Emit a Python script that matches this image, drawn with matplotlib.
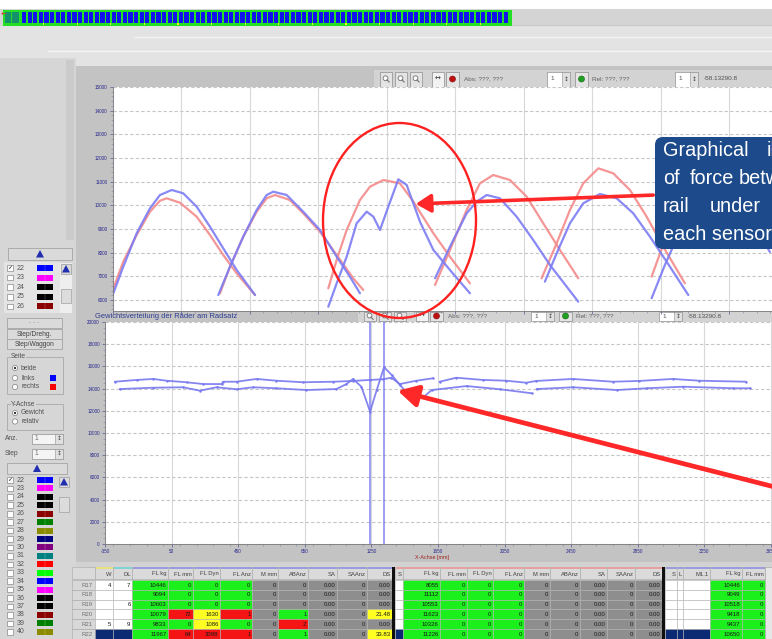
import numpy as np
import matplotlib
matplotlib.use("Agg")
import matplotlib.pyplot as plt
from matplotlib.patches import Rectangle, Ellipse, FancyBboxPatch, FancyArrowPatch, Circle, Polygon
from matplotlib.ticker import MultipleLocator

plt.rcParams['font.family'] = ['Liberation Sans', 'DejaVu Sans']

W, H = 772, 639

# ---------------- upper chart: force per sensor (kg) over position (mm)
blue1_x = [0, 77, 175, 272, 345, 431, 515, 613, 710, 807, 905, 1039]
blue1_y = [6211, 7407, 8818, 9874, 10436, 10648, 10507, 9942, 9097, 8184, 7268, 6211]
red1_x = [0, 77, 175, 272, 345, 394, 491, 613, 710, 807, 905, 1039]
red1_y = [6423, 7618, 8746, 9731, 10195, 10297, 10111, 9520, 8746, 7901, 7127, 6211]

blue2_x = [771, 856, 953, 1051, 1124, 1172, 1270, 1391, 1513, 1635, 1732, 1805]
blue2_y = [6211, 7407, 8675, 9803, 10436, 10576, 10436, 9731, 8958, 7829, 6984, 6283]
red2_x = [783, 856, 953, 1051, 1124, 1185, 1294, 1391, 1513, 1635, 1756, 1829]
red2_y = [6283, 7407, 8675, 9731, 10297, 10436, 10225, 9663, 8886, 7901, 6917, 6423]

blue3_x = [1574, 1635, 1708, 1781, 1854, 1903, 1951, 2012, 2085, 2146, 2244, 2341, 2462, 2608]
blue3_y = [5717, 6704, 7830, 9241, 9732, 9520, 8958, 9942, 11099, 10859, 9296, 8113, 7268, 6283]
red3_x = [1574, 1635, 1708, 1805, 1878, 1976, 2097, 2195, 2341, 2462, 2608]
red3_y = [6493, 7690, 8958, 10225, 10788, 11070, 10929, 10155, 8818, 7829, 6705]

blue4_x = [2353, 2462, 2584, 2657, 2730, 2827, 2949, 3070, 3192, 3399]
blue4_y = [6917, 8252, 9663, 10155, 10436, 10297, 9520, 8535, 7479, 5928]
red4_x = [2353, 2462, 2584, 2681, 2778, 2900, 3022, 3143, 3265, 3399]
red4_y = [6634, 8113, 9803, 10929, 11281, 11070, 10366, 9241, 8113, 6917]

blue5_x = [3155, 3241, 3338, 3435, 3557, 3679, 3800, 3922, 4044, 4202]
blue5_y = [6773, 7973, 9241, 10085, 10479, 10297, 9663, 8675, 7618, 6211]
red5_x = [3131, 3241, 3338, 3435, 3545, 3654, 3776, 3898, 4019, 4177]
red5_y = [6917, 8396, 9803, 10929, 11564, 11353, 10648, 9520, 8252, 6706]

blue6_x = [3934, 4031, 4177, 4323, 4469, 4615, 4798]
blue6_y = [6071, 7479, 9380, 10436, 10563, 9803, 8028]
red6_x = [3934, 4031, 4177, 4323, 4469, 4615, 4761, 4813]
red6_y = [6986, 8535, 10225, 11281, 11493, 11070, 10225, 9803]

up_yticks = [6000, 7000, 8000, 9000, 10000, 11000, 12000, 13000, 14000, 15000]
up_xticks = [0, 500, 1000, 1500, 2000, 2500, 3000, 3500, 4000, 4500]

# ---------------- lower chart: weight over position
wu_x = [-290, -160, -60, 20, 140, 240, 350, 360, 440, 560, 680, 840, 1020, 1140, 1240, 1320, 1370,
        1420, 1520, 1620, np.nan, 1660, 1760, 1920, 2060, 2180, 2240, 2460, 2700, 2860, 3060, 3220, 3500]
wu_y = [14620, 14780, 14870, 14710, 14570, 14410, 14410, 14620, 14620, 14870, 14710, 14570, 14620, 14690,
        14780, 14840, 14980, 14410, 14710, 14930, np.nan, 14620, 14980, 14780, 14710, 14530, 14690, 14870,
        14620, 14690, 14870, 14710, 14620]
wl_x = [-260, -60, 120, 220, 320, 440, 540, 680, 860, 1040, 1100, 1140, 1190, 1242, 1282, 1326, 1372,
        1422, 1502, 1562, 1612, 1822, 2022, 2213, np.nan, 2243, 2463, 2723, 2903, 3123, 3423, 3524]
wl_y = [13960, 14080, 14120, 13810, 14120, 13940, 14120, 14030, 13870, 13960, 14410, 14865, 14170, 11920,
        13870, 15920, 15225, 14320, 12970, 13220, 13870, 14230, 13940, 13580, np.nan, 13960, 14120, 13870,
        14030, 14170, 14030, 14030]
cursor_x = [1242, 1326]
lo_xticks = [-350, 50, 450, 850, 1250, 1650, 2050, 2450, 2850, 3250, 3650]
lo_yticks = [0, 2000, 4000, 6000, 8000, 10000, 12000, 14000, 16000, 18000, 20000]

# ---------------- sidebar lists
list_top_nums = [22, 23, 24, 25, 26]
list_top_cols = ['#0000ff', '#ff00ff', '#000000', '#000000', '#8b0000']
list_nums = [22, 23, 24, 25, 26, 27, 28, 29, 30, 31, 32, 33, 34, 35, 36, 37, 38, 39, 40]
list_cols = ['#0000ff', '#ff00ff', '#000000', '#000000', '#8b0000', '#008000', '#8b8b00', '#000080',
             '#800080', '#008080', '#ff0000', '#00ff00', '#0000ff', '#ff00ff', '#000000', '#000000',
             '#8b0000', '#008000', '#8b8b00']

# ---------------- table
row_names = ['R17', 'R18', 'R19', 'R20', 'R21', 'R22']
g1_head = ['', 'W', 'DL', 'FL kg', 'FL mm', 'FL Dyn', 'FL Anz', 'M mm', 'ABAnz', 'SA', 'SAAnz', 'DS']
g1_vals = [
    ['4', '', '', '', '5', ''],
    ['7', '', '6', '', '9', ''],
    ['10446', '9094', '10603', '10079', '9833', '11967'],
    ['0', '0', '0', '72', '0', '64'],
    ['0', '0', '0', '1630', '1086', '3098'],
    ['0', '0', '0', '1', '0', '1'],
    ['0', '0', '0', '0', '0', '0'],
    ['0', '0', '0', '1', '2', '1'],
    ['0.00', '0.00', '0.00', '0.00', '0.00', '0.00'],
    ['0', '0', '0', '0', '0', '0'],
    ['0.00', '0.00', '0.00', '21.48', '0.00', '33.83'],
]
g1_cols = ['wwwwwn', 'wwwwwn', 'gggggg', 'gggrgr', 'gggyyr', 'gggrgr', 'kkkkkk', 'kkkgrg', 'kkkkkk',
           'kkkkkk', 'kkkyky']
g2_head = ['S', 'FL kg', 'FL mm', 'FL Dyn', 'FL Anz', 'M mm', 'ABAnz', 'SA', 'SAAnz', 'DS']
g2_fl_kg = ['8055', '11112', '10553', '11623', '10326', '11226']
g3_head = ['S', 'L', 'M1.1', 'FL kg', 'FL mm']
g3_fl_kg = ['10446', '9049', '10518', '9418', '9437', '10650']

cell_fc = {'w': '#ffffff', 'n': '#0c2a74', 'g': '#1cf01c', 'r': '#f41414', 'y': '#ffff22', 'k': '#8e8e8e'}

fig = plt.figure(figsize=(W / 100, H / 100), dpi=100)
fig.patch.set_facecolor('#d4d4d4')


def frac(x0, y0, x1, y1):
    return [x0 / W, 1 - y1 / H, (x1 - x0) / W, (y1 - y0) / H]


bg = fig.add_axes([0, 0, 1, 1], zorder=0)
bg.set_xlim(0, W)
bg.set_ylim(H, 0)
bg.axis('off')


def rect(x0, y0, x1, y1, fc, ec='none', lw=0.5, z=1, ax=bg):
    ax.add_patch(Rectangle((x0, y0), x1 - x0, y1 - y0, fc=fc, ec=ec, lw=lw, zorder=z))


def txt(x, y, s, size=4.5, color='#404040', ha='left', va='center', z=4, ax=bg, **kw):
    ax.text(x, y, s, fontsize=size, color=color, ha=ha, va=va, zorder=z, **kw)


# ---- window chrome
rect(0, 0, W, 9, 'white')
rect(3, 10, 512, 26, '#24e024')
rect(5, 12, 11, 23, '#14906a', z=2)
rect(12, 12, 19, 23, '#14906a', z=2)
for i, bx in enumerate(np.arange(22, 508, 5.6)):
    rect(bx, 12, bx + 4.2, 23, '#1212ee', z=2)
    if i % 6 == 3:
        rect(bx + 4.2, 23, bx + 5.4, 25, '#f0f020', z=2)
txt(1, 15, '\u2190', 5, '#e03030', family='DejaVu Sans')
rect(49, 32, 50.5, 34, '#e04040')
rect(0, 26, W, 66, '#e3e3e3')
bg.plot([512, W], [25, 25], color='#c8c8c8', lw=0.8)
bg.plot([135, W], [37, 37], color='#f4f4f4', lw=1)
bg.plot([48, W], [51, 51], color='#f4f4f4', lw=1)
rect(0, 58, 76, H, '#d6d6d6')
rect(66, 60, 74, 240, '#cbcbcb')

rect(76, 66, W, 313, '#c3c3c3')
rect(76, 313, W, 562, '#c3c3c3')
rect(70, 562, W, H, '#d2d2d2')


def toolbar(x0, y0, y1):
    rect(x0 - 4, y0, W, y1, '#d3d3d3', z=1)
    by, bh = y0 + 1.5, y1 - y0 - 3
    for dx in (2, 17, 32):
        rect(x0 + dx, by, x0 + dx + 12, by + bh, '#e4e4e4', '#8c8c8c', 0.5, z=2)
        cx, cy = x0 + dx + 5.5, by + bh * 0.45
        bg.add_patch(Circle((cx, cy), 2.4, fc='white', ec='#707070', lw=0.6, zorder=3))
        bg.plot([cx + 1.6, cx + 3.6], [cy + 1.6, cy + 3.8], color='#707070', lw=0.8, zorder=3)
    rect(x0 + 54, by, x0 + 66, by + bh, '#f2f2f2', '#8c8c8c', 0.5, z=2)
    txt(x0 + 60, by + bh / 2, '\u2194', 5, '#303030', ha='center', family='DejaVu Sans')
    rect(x0 + 68, by, x0 + 81, by + bh, '#e4e4e4', '#8c8c8c', 0.5, z=2)
    bg.add_patch(Circle((x0 + 74.5, by + bh / 2), 3, fc='#c01010', ec='#801010', lw=0.4, zorder=3))
    txt(x0 + 86, by + bh / 2, 'Abs: ???, ???', 4.6, '#606060')
    for sx in (169, 297):
        rect(x0 + sx, by, x0 + sx + 23, by + bh, 'white', '#909090', 0.5, z=2)
        rect(x0 + sx + 15, by, x0 + sx + 23, by + bh, '#e0e0e0', '#909090', 0.4, z=2)
        txt(x0 + sx + 3, by + bh / 2, '1', 4.6, '#505050')
        txt(x0 + sx + 19, by + bh / 2, '\u2195', 4.2, '#404040', ha='center', family='DejaVu Sans')
    rect(x0 + 197, by, x0 + 210, by + bh, '#e4e4e4', '#8c8c8c', 0.5, z=2)
    bg.add_patch(Circle((x0 + 203.5, by + bh / 2), 3, fc='#20a020', ec='#106010', lw=0.4, zorder=3))
    txt(x0 + 214, by + bh / 2, 'Rel: ???, ???', 4.6, '#606060')
    txt(x0 + 326, by + bh / 2, '-58.13290.8', 4.6, '#505050')


toolbar(378, 70, 88)
toolbar(362, 310, 322)
txt(95, 316, 'Gewichtsverteilung der R\u00e4der am Radsatz', 5.4, '#2c3c90')
txt(432, 557.5, 'X-Achse [mm]', 3.9, '#a02020', ha='center')


# ---- sidebar
def button(x0, y0, x1, y1, label='', color='#404040', size=4.8):
    rect(x0, y0, x1, y1, '#dadada', '#a4a4a4', 0.6, z=2)
    if label:
        txt((x0 + x1) / 2, (y0 + y1) / 2, label, size, color, ha='center')


def up_button(x0, y0, x1, y1):
    button(x0, y0, x1, y1)
    cx, cy = (x0 + x1) / 2, (y0 + y1) / 2
    bg.add_patch(Polygon([[cx - 4, cy + 3.5], [cx + 4, cy + 3.5], [cx, cy - 4]], closed=True,
                         fc='#1f2fb0', ec='none', zorder=3))


def colour_list(y0, step, nums, cols, x_end):
    rect(4, y0 - 6, x_end, H, '#e4e4e4', z=1)
    for i, (n, c) in enumerate(zip(nums, cols)):
        y = y0 + i * step
        rect(7, y - 2.8, 13, y + 2.8, 'white', '#8a8a8a', 0.5, z=2)
        if i == 0:
            txt(10, y, '\u2713', 4.5, '#202020', ha='center', family='DejaVu Sans')
        txt(17, y, str(n), 5, '#555555')
        rect(37, y - 3, 53, y + 3, c, z=2)
        bg.plot([45, 45], [y - 3, y + 3], color='#ffffff', lw=0.3, alpha=0.5, zorder=3)


up_button(8, 248, 72, 260)
colour_list(268, 9.6, list_top_nums, list_top_cols, 60)
rect(60, 263, 72, 313, '#eeeeee', z=1)
up_button(61, 264, 71, 274)
rect(61, 289, 71, 303, '#dcdcdc', '#a0a0a0', 0.5, z=2)

rect(0, 313, 76, H, '#d6d6d6', z=1.5)
button(7, 318, 62, 328, '- - -', '#a0a0a0')
button(7, 329, 62, 339, 'Step/Drehg.')
button(7, 339, 62, 349, 'Step/Waggon')
rect(7, 357, 63, 394, 'none', '#a8a8a8', 0.6, z=2)
txt(11, 356, 'Seite', 4.8, '#505050', bbox=dict(fc='#d6d6d6', ec='none', pad=0.3))
rect(7, 404, 63, 430, 'none', '#a8a8a8', 0.6, z=2)
txt(11, 404, 'Y-Achse', 4.8, '#505050', bbox=dict(fc='#d6d6d6', ec='none', pad=0.3))
for y, lab, on in [(368, 'beide', True), (378, 'links', False), (387, 'rechts', False),
                   (413, 'Gewicht', True), (421.5, 'relativ', False)]:
    bg.add_patch(Circle((15, y), 2.6, fc='white', ec='#808080', lw=0.5, zorder=3))
    if on:
        bg.add_patch(Circle((15, y), 1.1, fc='#202020', ec='none', zorder=4))
    txt(21, y, lab, 4.8, '#505050')
rect(50, 375, 56, 381, '#0000ff', z=3)
rect(50, 384, 56, 390, '#ff0000', z=3)
for y, lab in [(438.5, 'Anz.'), (453.5, 'Step')]:
    txt(5, y, lab, 4.8, '#505050')
    rect(32, y - 5, 63, y + 5, '#f4f4f4', '#909090', 0.5, z=2)
    rect(55, y - 5, 63, y + 5, '#e0e0e0', '#909090', 0.4, z=2)
    txt(35, y, '1', 4.8, '#707070')
    txt(59, y, '\u2195', 4.2, '#404040', ha='center', family='DejaVu Sans')
up_button(7, 463, 67, 474)
colour_list(480, 8.43, list_nums, list_cols, 58)
rect(58, 476, 70, H, '#eeeeee', z=1)
up_button(59, 477, 69, 487)
rect(59, 497, 69, 512, '#dcdcdc', '#a0a0a0', 0.5, z=2)

# ---- table
ROW0, ROWH = 580, 9.8


def table_group(edges, heads, strip, columns, colours, sep_right=None):
    for j, h in enumerate(heads):
        x0, x1 = edges[j], edges[j + 1]
        rect(x0, 567, x1, 579, '#dadada', '#a8a8a8', 0.4, z=2)
        rect(x0 + 0.5, 567, x1 - 0.5, 569, strip[j], z=3)
        txt(x1 - 1.2, 574, h, 4.2, '#404040', ha='right')
        for i in range(6):
            y0 = ROW0 + i * ROWH
            rect(x0, y0, x1, y0 + ROWH, cell_fc[colours[j][i]], '#b4b4b4', 0.4, z=2)
            s = columns[j][i]
            if s and i < 5:
                txt(x1 - 1.5, y0 + ROWH / 2 + 0.3, s, 4.3, '#1a1a1a', ha='right')
            elif s:
                txt(x1 - 1.5, y0 + 2.5, s, 4.3, '#1a1a1a', ha='right', va='top')
    if sep_right is not None:
        rect(sep_right[0], 567, sep_right[1], H, '#101010', z=3)


e1 = [72, 95, 113, 132, 168, 193, 220, 252, 278, 308, 337, 367, 392]
rect(72, 567, 95, 579, '#dadada', '#a8a8a8', 0.4, z=2)
for i, rn in enumerate(row_names):
    y0 = ROW0 + i * ROWH
    rect(72, y0, 95, y0 + ROWH, '#d8d8d8', '#a8a8a8', 0.4, z=2)
    txt(93, y0 + ROWH / 2 + 0.3, rn, 4.3, '#707070', ha='right')
table_group(e1[1:], g1_head[1:], ['#e8e080', '#80d4d4'] + ['#9c9cdc'] * 9, g1_vals, g1_cols, (392, 395))

e2 = [395, 403, 440, 467, 493, 524, 550, 580, 607, 635, 662]
zero = ['0'] * 6
zz = ['0.00'] * 6
g2_vals = [[''] * 6, g2_fl_kg, zero, zero, zero, zero, zero, zz, zero, zz]
g2_cols = ['wwwwwn', 'gggggg', 'gggggg', 'gggggg', 'gggggg', 'kkkkkk', 'kkkkkk', 'kkkkkk', 'kkkkkk', 'kkkkkk']
table_group(e2, g2_head, ['#e6a0a0'] * 10, g2_vals, g2_cols, (662, 665))

e3 = [665, 677, 683, 710, 742, 765]
g3_vals = [[''] * 6, [''] * 6, [''] * 6, g3_fl_kg, zero]
g3_cols = ['wwwwwn', 'wwwwwn', 'wwwwwn', 'gggggg', 'gggggg']
table_group(e3, g3_head, ['#9c9cdc'] * 5, g3_vals, g3_cols)
rect(765, 567, W, H, '#e6e6e6', '#a0a0a0', 0.4, z=2)


# ---- charts
def style_axis(ax):
    ax.set_facecolor('white')
    for s in ('top', 'right'):
        ax.spines[s].set_visible(False)
    for s in ('left', 'bottom'):
        ax.spines[s].set_color('#7a7a7a')
        ax.spines[s].set_linewidth(0.6)
    ax.tick_params(which='major', labelsize=3.3, labelcolor='#28288e', color='#55559a',
                   length=2.5, width=0.5, pad=1.2)
    ax.tick_params(which='minor', color='#8080b0', length=1.2, width=0.4)
    ax.xaxis.grid(True, color='#d8d8d8', lw=0.8)
    ax.yaxis.grid(True, color='#c6c6c6', lw=0.8, ls=(0, (3, 2)))
    ax.set_axisbelow(True)


ax1 = fig.add_axes(frac(112.7, 87, W, 311), zorder=1)
style_axis(ax1)
ax1.set_xlim(0, 4813)
ax1.set_ylim(5535, 15000)
ax1.set_yticks(up_yticks)
ax1.set_yticklabels([str(v) for v in up_yticks])
ax1.set_xticks(up_xticks)
ax1.tick_params(axis='x', labelbottom=False)
ax1.yaxis.set_minor_locator(MultipleLocator(200))
ax1.xaxis.set_minor_locator(MultipleLocator(100))

blue_arches = [(blue1_x, blue1_y), (blue2_x, blue2_y), (blue3_x, blue3_y),
               (blue4_x, blue4_y), (blue5_x, blue5_y), (blue6_x, blue6_y)]
red_arches = [(red1_x, red1_y), (red2_x, red2_y), (red3_x, red3_y),
              (red4_x, red4_y), (red5_x, red5_y), (red6_x, red6_y)]
for x, y in red_arches:
    ax1.plot(x, y, color='#f48a8a', lw=1.6, alpha=0.9, solid_capstyle='round')
for x, y in blue_arches:
    ax1.plot(x, y, color='#7c7cf4', lw=1.6, alpha=0.9, solid_capstyle='round')

ax2 = fig.add_axes(frac(105, 322, W, 544), zorder=1)
style_axis(ax2)
ax2.set_xlim(-350, 3656)
ax2.set_ylim(0, 20000)
ax2.set_xticks(lo_xticks)
ax2.set_xticklabels([str(v) for v in lo_xticks])
ax2.set_yticks(lo_yticks)
ax2.set_yticklabels([str(v) for v in lo_yticks])
ax2.yaxis.set_minor_locator(MultipleLocator(500))
ax2.xaxis.set_minor_locator(MultipleLocator(100))
for cx in cursor_x:
    ax2.axvline(cx, color='#6e6ef2', lw=1.1, alpha=0.85)
ax2.plot(wu_x, wu_y, color='#7878f0', lw=1.3, marker='.', ms=1.6, alpha=0.9)
ax2.plot(wl_x, wl_y, color='#7878f0', lw=1.3, marker='.', ms=1.6, alpha=0.9)

# ---- annotations on top
fg = fig.add_axes([0, 0, 1, 1], zorder=3)
fg.set_xlim(0, W)
fg.set_ylim(H, 0)
fg.axis('off')
fg.patch.set_alpha(0)

fg.add_patch(Ellipse((399.5, 220.5), 153, 195, fill=False, ec='#ff2020', lw=1.7))
fg.add_patch(FancyArrowPatch((656, 195), (413, 204), arrowstyle='-|>,head_length=9,head_width=5.5',
                             color='#ff2828', lw=2.6, mutation_scale=1))
fg.add_patch(FancyArrowPatch((810, 496), (395, 390), arrowstyle='-|>,head_length=12,head_width=6.5',
                             color='#ff2828', lw=3.4, mutation_scale=1))
fg.add_patch(FancyBboxPatch((655, 137), 170, 112, boxstyle='round,pad=0,rounding_size=8',
                            fc='#1d4a8a', ec='none'))
box_words = [(663, 156, 'Graphical'), (767, 156, 'illustration'),
             (663, 184, 'of'), (690, 184, 'force'), (739, 184, 'between'),
             (663, 212, 'rail'), (710, 212, 'under'), (772, 212, 'the'),
             (663, 240, 'each sensor')]
for x, y, s in box_words:
    fg.text(x, y, s, fontsize=14.3, color='white', ha='left', va='baseline', family='Liberation Sans')

fig.savefig('out.png', dpi=100, facecolor=fig.get_facecolor())
